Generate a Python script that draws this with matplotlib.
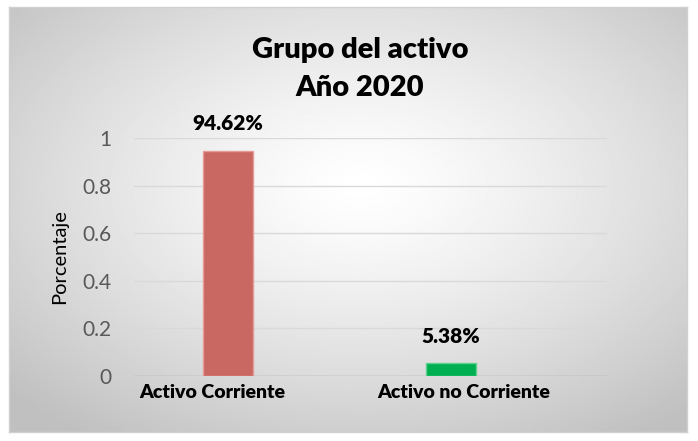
import numpy as np
import matplotlib.pyplot as plt
from matplotlib.transforms import ScaledTranslation

categorias = ['Activo Corriente', 'Activo no Corriente']
valores = [0.9462, 0.0538]
etiquetas = ['94.62%', '5.38%']
colores = ['#C96763', '#00B050']
bordes = ['#E59C99', '#5FD08F']
yticks = [0, 0.2, 0.4, 0.6, 0.8, 1.0]
yticklabels = ['0', '0.2', '0.4', '0.6', '0.8', '1']

plt.rcParams['font.family'] = ['Lato', 'DejaVu Sans']

W, H = 698, 441
fig = plt.figure(figsize=(W / 100, H / 100), dpi=100)
fig.patch.set_facecolor('white')

# fondo con degradado radial, como en Excel
bg = fig.add_axes([9 / W, 1 - 432 / H, (687 - 9) / W, (432 - 7) / H])
yy, xx = np.mgrid[0:1:300j, 0:1:480j]
r = np.sqrt(((xx - 0.52) / 0.72) ** 2 + ((yy - 0.42) / 0.72) ** 2)
r = np.clip(r, 0, 1)
img = 1.0 - 0.25 * r ** 1.3
bg.imshow(img, cmap='gray', vmin=0, vmax=1, aspect='auto', extent=[0, 1, 0, 1])
bg.set_xticks([])
bg.set_yticks([])
for s in bg.spines.values():
    s.set_color('#D0D0D0')
    s.set_linewidth(1)

# area de grafico
x0, x1 = 134, 607
y0, y1 = 138, 376
ax = fig.add_axes([x0 / W, 1 - y1 / H, (x1 - x0) / W, (y1 - y0) / H])
ax.patch.set_alpha(0)
pos = np.array([0, 1])
ax.bar(pos, valores, width=0.224, color=colores, edgecolor=bordes, linewidth=1, zorder=3)
ax.set_xlim(-0.42, 1.70)
ax.set_ylim(0, 1)
ax.set_yticks(yticks)
ax.set_yticklabels(yticklabels, fontsize=15, color='#595959')
ax.yaxis.grid(True, color='#D9D9D9', linewidth=1)
ax.set_axisbelow(True)
ax.axhline(0, color='#A6A6A6', linewidth=1, zorder=2)
for s in ax.spines.values():
    s.set_visible(False)
ax.tick_params(axis='y', length=0, pad=16.5)
ax.tick_params(axis='x', length=0, pad=6)
ax.set_xticks(pos)
ax.set_xticklabels(categorias, fontsize=14, fontweight='heavy', color='black')
for lab, dx in zip(ax.get_xticklabels(), [-15, 13]):
    lab.set_transform(lab.get_transform() + ScaledTranslation(dx / 100, 0, fig.dpi_scale_trans))
ax.set_ylabel('Porcentaje', fontsize=14.5, color='black', labelpad=10)

for p, v, t in zip(pos, valores, etiquetas):
    ax.annotate(t, (p, v), xytext=(0, 12.5), textcoords='offset points',
                ha='center', va='bottom', fontsize=15, fontweight='heavy')

fig.text(360 / W, 1 - 50 / H, 'Grupo del activo', ha='center', va='center',
         fontsize=21, fontweight='heavy')
fig.text(360 / W, 1 - 88 / H, 'Año 2020', ha='center', va='center',
         fontsize=21, fontweight='heavy')

fig.savefig('out.png', dpi=100)
